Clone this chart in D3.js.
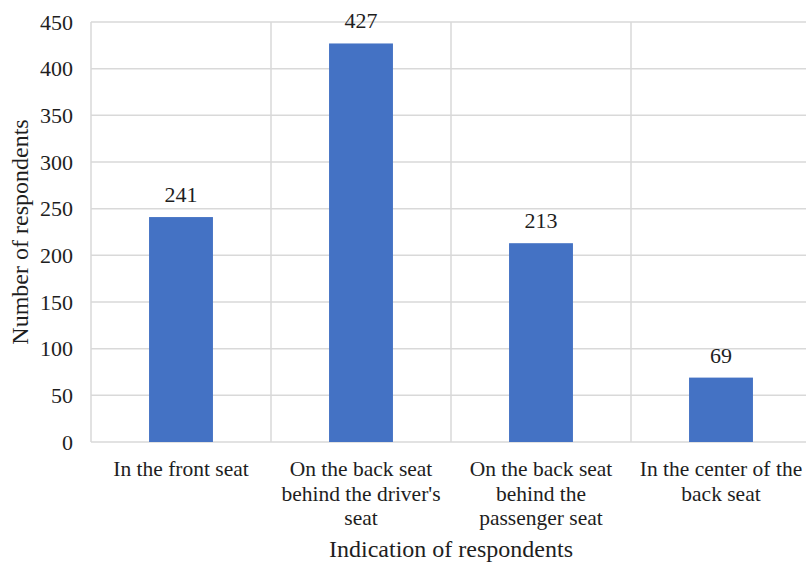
<!DOCTYPE html>
<html>
<head>
<meta charset="utf-8">
<script src="https://cdn.jsdelivr.net/npm/d3@7"></script>
<style>
  html, body { margin: 0; padding: 0; background: #fff; }
</style>
</head>
<body>
<svg id="chart" width="806" height="566"></svg>
<script>
// Seating position reported by respondents
const categories = [
  ["In the front seat"],
  ["On the back seat", "behind the driver's", "seat"],
  ["On the back seat", "behind the", "passenger seat"],
  ["In the center of the", "back seat"]
];
const counts = [241, 427, 213, 69];
const yTicks = [0, 50, 100, 150, 200, 250, 300, 350, 400, 450];

const FONT = "'Liberation Serif'";
const INK = "#1e1e1e";

const svg = d3.select("#chart");
const x0 = 91, x1 = 811;   // plot runs just past the right edge
const y0 = 442, y1 = 22;

const keys = d3.range(categories.length);
const x = d3.scaleBand().domain(keys).range([x0, x1]).paddingInner(0).paddingOuter(0);
const y = d3.scaleLinear().domain([0, 450]).range([y0, y1]);
const barW = x.bandwidth() * 0.355;

const grid = "#d9d9d9";

// horizontal gridlines
svg.append("g").selectAll("line").data(yTicks).join("line")
  .attr("x1", x0).attr("x2", x1)
  .attr("y1", d => y(d)).attr("y2", d => y(d))
  .attr("stroke", grid).attr("stroke-width", 1.5);

// vertical category separators
svg.append("g").selectAll("line").data(keys.concat([keys.length])).join("line")
  .attr("x1", d => x0 + d * x.bandwidth()).attr("x2", d => x0 + d * x.bandwidth())
  .attr("y1", y1).attr("y2", y0)
  .attr("stroke", grid).attr("stroke-width", 1.5);

// bars
svg.append("g").selectAll("rect").data(counts).join("rect")
  .attr("x", (d, i) => x(i) + x.bandwidth() / 2 - barW / 2)
  .attr("width", barW)
  .attr("y", d => y(d))
  .attr("height", d => y(0) - y(d))
  .attr("fill", "#4472c4");

// value labels
svg.append("g").selectAll("text").data(counts).join("text")
  .attr("x", (d, i) => x(i) + x.bandwidth() / 2)
  .attr("y", d => y(d) - 15)
  .attr("text-anchor", "middle")
  .style("font-family", FONT).attr("font-size", 22).attr("fill", INK)
  .text(d => d);

// y axis tick labels
const yAxis = d3.axisLeft(y).tickValues(yTicks).tickSize(0).tickPadding(18);
const ya = svg.append("g").attr("transform", `translate(${x0},0)`).call(yAxis);
ya.select(".domain").remove();
ya.attr("font-family", null).attr("font-size", null);
ya.selectAll("text").style("font-family", FONT).attr("font-size", 22).attr("fill", INK);

// x axis category labels (multi-line)
const xl = svg.append("g").selectAll("text").data(categories).join("text")
  .attr("text-anchor", "middle")
  .style("font-family", FONT).attr("font-size", 21.5).attr("fill", INK);
xl.each(function(lines, i) {
  const t = d3.select(this);
  lines.forEach((ln, j) => {
    t.append("tspan")
      .attr("x", x(i) + x.bandwidth() / 2)
      .attr("y", 476 + j * 24.5)
      .text(ln);
  });
});

// axis titles
svg.append("text")
  .attr("x", 451).attr("y", 557)
  .attr("text-anchor", "middle")
  .style("font-family", FONT).attr("font-size", 24).attr("fill", INK)
  .text("Indication of respondents");

svg.append("text")
  .attr("transform", `translate(28,${(y0 + y1) / 2}) rotate(-90)`)
  .attr("text-anchor", "middle")
  .style("font-family", FONT).attr("font-size", 24).attr("fill", INK)
  .text("Number of respondents");
</script>
</body>
</html>
